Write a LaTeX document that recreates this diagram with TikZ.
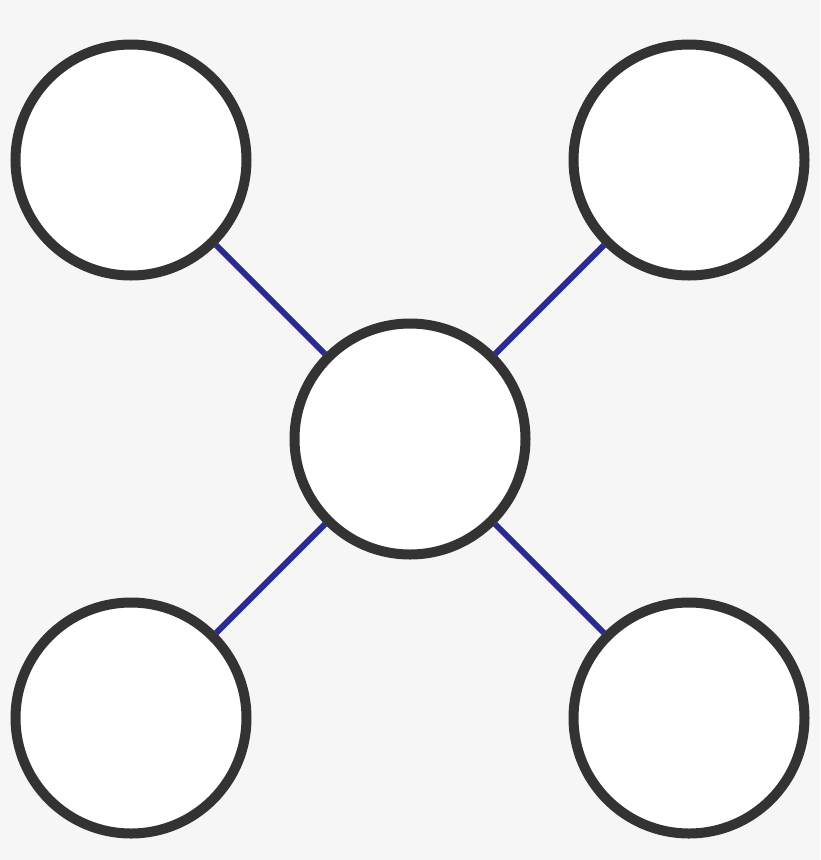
\documentclass[tikz,border=0pt]{standalone}
\usepackage{tikz}
\definecolor{bggray}{HTML}{F6F6F6}
\definecolor{ringgray}{HTML}{333333}
\definecolor{linkblue}{HTML}{2B2A8E}

\begin{document}
\begin{tikzpicture}[x=1pt, y=-1pt,
    hub/.style={circle, draw=ringgray, fill=white, line width=10pt, minimum size=231pt, inner sep=0pt},
    link/.style={draw=linkblue, line width=6pt}]
    \fill[bggray] (0, 0) rectangle (820, 860);
    \useasboundingbox (0, 0) rectangle (820, 860);
    \node (c) [hub] at (410, 439) {};
    \node (tl) [hub] at (131, 160) {};
    \node (tr) [hub] at (689, 160) {};
    \node (bl) [hub] at (131, 718) {};
    \node (br) [hub] at (689, 718) {};
    \draw[link] (c) -- (tl);
    \draw[link] (c) -- (tr);
    \draw[link] (c) -- (bl);
    \draw[link] (c) -- (br);
  \end{tikzpicture}
\end{document}
